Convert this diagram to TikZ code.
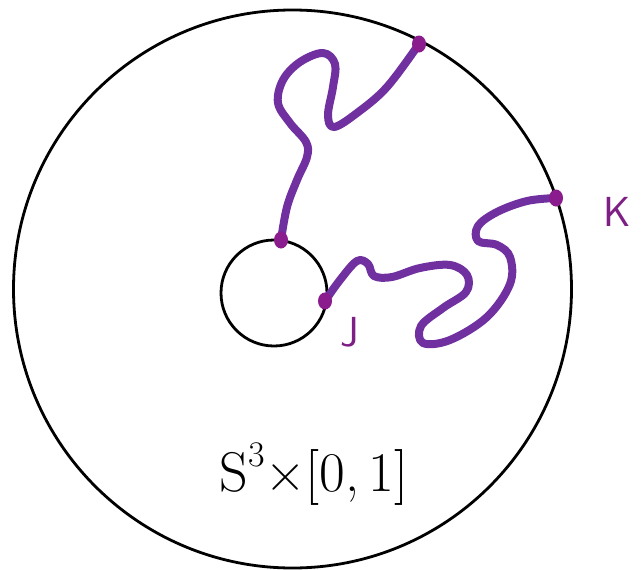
\documentclass[tikz,border=0pt]{standalone}
\usepackage{fontspec}
\usetikzlibrary{shapes.geometric}
\definecolor{curvepurple}{HTML}{7030A0}
\definecolor{dotpurple}{HTML}{8A1C8E}
\definecolor{labelpurple}{HTML}{7E1F86}
\begin{document}
\begin{tikzpicture}[x=1pt,y=-1pt,
  knot/.style={draw=curvepurple,line width=8pt,line cap=round,line join=round},
  enddot/.style={fill=dotpurple,ellipse,inner sep=0pt,minimum width=14pt,minimum height=17pt},
  lbl/.style={text=labelpurple,font=\fontsize{42}{46}\selectfont\sffamily}]
\useasboundingbox (0,0) rectangle (643,570);
\node[draw=black,line width=2.8pt,circle,minimum size=558pt,inner sep=0pt] (outer) at (292.5,289) {};
\node[draw=black,line width=2.8pt,circle,minimum size=106pt,inner sep=0pt] (inner) at (274,293) {};
\coordinate (a1) at (281,240);
\coordinate (a2) at (419,44);
\coordinate (b1) at (325,301);
\coordinate (b2) at (556,198);
\draw[knot] plot[smooth,tension=0.6] coordinates {(a1) (287,207) (297,180) (307,157) (306,142) (290,123) (278,103) (283,80) (300,62) (323,53) (335,64) (333,87) (328,115) (334,127) (357,113) (387,87) (a2)};
\draw[knot] plot[smooth,tension=0.6] coordinates {(b1) (340,280) (357,261) (368,264) (374,276) (392,277) (420,268) (450,265) (467,275) (466,292) (443,308) (421,326) (423,343) (450,340) (487,317) (510,284) (510,257) (497,245) (478,241) (478,226) (497,212) (527,201) (b2)};
\node[enddot] (d1) at (a1) {};
\node[enddot] (d2) at (a2) {};
\node[enddot] (d3) at (b1) {};
\node[enddot] (d4) at (b2) {};
\node[lbl] (J) at (350,332) {J};
\node[lbl] (K) at (617,212) {K};
\node[font=\fontsize{56}{60}\selectfont] (space) at (314,474) {S\raisebox{0.45em}{\fontsize{36}{40}\selectfont 3}×[0,\,1]};
\end{tikzpicture}
\end{document}
